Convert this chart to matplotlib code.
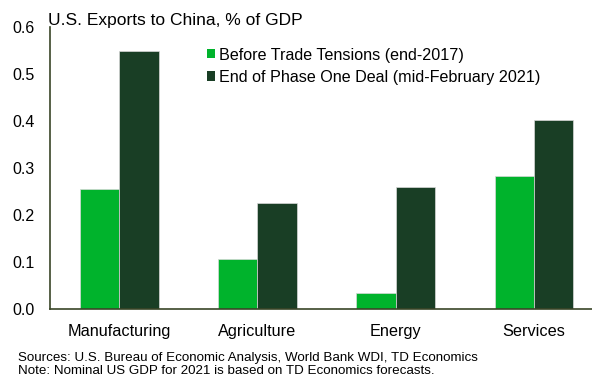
import numpy as np
import matplotlib
matplotlib.use('Agg')
import matplotlib.pyplot as plt
from matplotlib.patches import Patch

plt.rcParams['font.family'] = ['Liberation Sans', 'DejaVu Sans']

categories = ['Manufacturing', 'Agriculture', 'Energy', 'Services']
before_tensions = [0.255, 0.106, 0.034, 0.283]
phase_one_end = [0.549, 0.226, 0.259, 0.402]
series_names = ['Before Trade Tensions (end-2017)',
                'End of Phase One Deal (mid-February 2021)']
yticks = [0.0, 0.1, 0.2, 0.3, 0.4, 0.5, 0.6]

light = '#00b32c'
dark = '#193e25'

fig = plt.figure(figsize=(5.92, 3.77), dpi=100)
ax = fig.add_axes([50/592, 1 - 309/377, 1 - 50/592, (309 - 27)/377])

x = np.arange(len(categories))
w = 0.285
ax.bar(x - w/2, before_tensions, w, color=light, edgecolor='#d8d8d8', linewidth=0.5)
ax.bar(x + w/2, phase_one_end, w, color=dark, edgecolor='#d8d8d8', linewidth=0.5)

ax.set_xlim(-0.5, 3.42)
ax.set_ylim(0, 0.6)
ax.set_yticks(yticks)
ax.set_yticklabels(['%.1f' % t for t in yticks])
ax.set_xticks(x)
ax.set_xticklabels(categories)
ax.tick_params(axis='y', length=0, pad=11, labelsize=11.5)
ax.tick_params(axis='x', length=0, pad=11, labelsize=11.7)

for s in ['top', 'right']:
    ax.spines[s].set_visible(False)
for s in ['left', 'bottom']:
    ax.spines[s].set_color('#3a4527')
    ax.spines[s].set_linewidth(1.2)

handles = [Patch(facecolor=light), Patch(facecolor=dark)]
ax.legend(handles, series_names, loc='upper left', bbox_to_anchor=(0.277, 0.95),
          frameon=False, fontsize=11.6, handlelength=0.5, handleheight=0.5,
          handletextpad=0.3, labelspacing=0.45, borderaxespad=0)

fig.text(48/592, 1 - 20/377, 'U.S. Exports to China, % of GDP',
         fontsize=12.5, va='center', ha='left')
fig.text(18/592, 1 - 358/377,
         'Sources: U.S. Bureau of Economic Analysis, World Bank WDI, TD Economics',
         fontsize=9.6, va='center', ha='left')
fig.text(18/592, 1 - 371.5/377,
         'Note: Nominal US GDP for 2021 is based on TD Economics forecasts.',
         fontsize=9.6, va='center', ha='left')

fig.savefig('out.png', dpi=100)
